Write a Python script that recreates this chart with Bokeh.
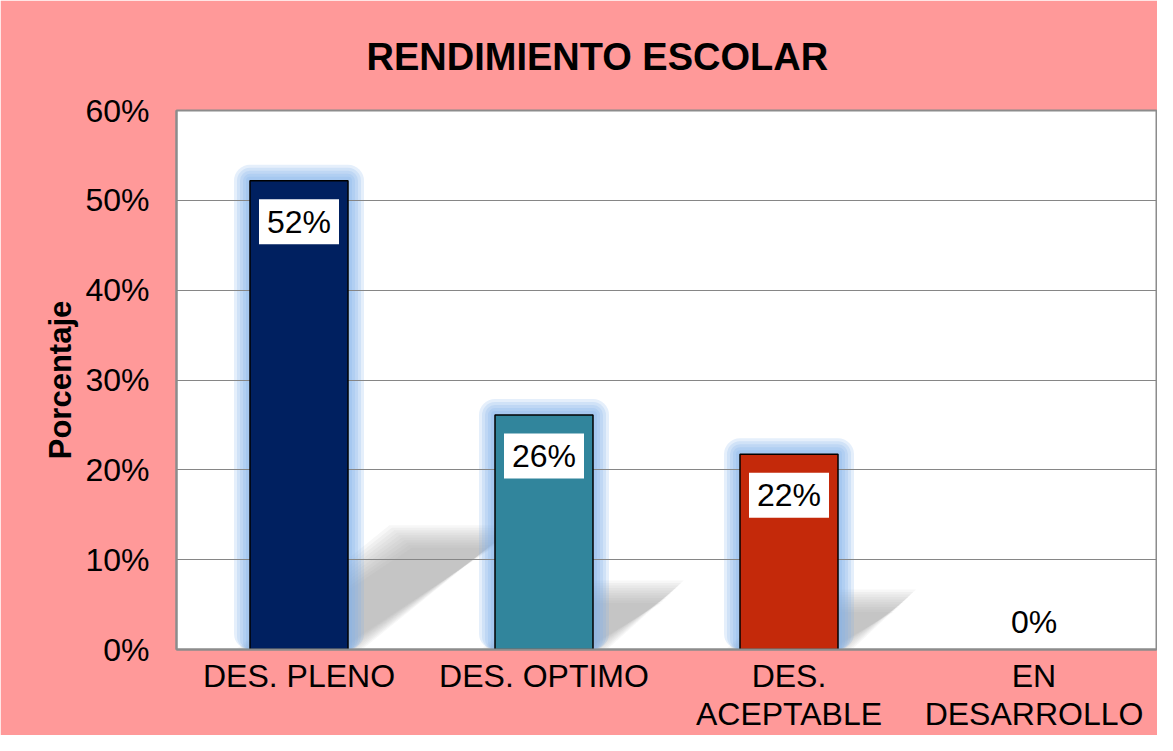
import numpy as np
from bokeh.plotting import figure
from bokeh.models import Range1d, FixedTicker, NumeralTickFormatter
from bokeh.core.properties import value
from bokeh.embed import file_html
from bokeh.resources import INLINE

# ---- data ----
categories = ["DES. PLENO", "DES. OPTIMO", "DES.\nACEPTABLE", "EN\nDESARROLLO"]
values = [0.5217, 0.2609, 0.2174, 0.0]
bar_colors = ["#002060", "#31859C", "#C4290A", "#7F7F7F"]
y_ticks = [0.0, 0.1, 0.2, 0.3, 0.4, 0.5, 0.6]
title_text = "RENDIMIENTO ESCOLAR"
y_label = "Porcentaje"

FONT = "Liberation Sans"
W, H = 1157, 735
BL, BR, BT, BB = 176, 1, 110, 86
FW, FH = W - BL - BR, H - BT - BB
n = len(categories)
px_x = FW / n            # pixels per category unit
px_y = FH / y_ticks[-1]  # pixels per data unit

p = figure(width=W, height=H, x_range=Range1d(0, n), y_range=Range1d(0, y_ticks[-1]),
           output_backend="svg", toolbar_location=None,
           min_border_left=BL, min_border_right=BR, min_border_top=BT, min_border_bottom=BB)
p.border_fill_color = "#FF9999"
p.background_fill_color = "white"
p.outline_line_color = "#8C8C8C"
p.outline_line_width = 2

xs = np.arange(n) + 0.5
vals = np.array(values)
bw = 0.4
pos = vals > 0

# ---- soft shadows (derived from bar geometry) ----
h_sh = 0.235 * vals
dx_sh = 1.2 * vals
for m in np.arange(14, -9, -2.5):
    mx, my = m / px_x, m / px_y
    pxs, pys = [], []
    for xc, v, hh, dd in zip(xs, vals, h_sh, dx_sh):
        if v <= 0:
            continue
        pxs.append([xc - bw / 2 - mx, xc + bw / 2 + mx, xc + bw / 2 + dd + mx, xc - bw / 2 + dd - mx])
        pys.append([0, 0, hh + my, hh + my])
    p.patches(pxs, pys, fill_color="#A8A8A8", fill_alpha=0.085, line_color=None, level="image")

# ---- blue glow ----
for pad in [16, 13, 10, 7, 4]:
    p.vbar(x=xs[pos], top=vals[pos] + pad / px_y, width=bw + 2 * pad / px_x,
           fill_color="#7FB0EC", fill_alpha=0.2, line_color=None,
           border_radius=pad, level="image")

# ---- bars ----
p.vbar(x=xs[pos], top=vals[pos], width=bw, fill_color=[c for c, q in zip(bar_colors, pos) if q],
       line_color="black", line_width=1.5)

# ---- data labels ----
labels = [f"{v * 100:.0f}%" for v in values]
lab_y = [v - 41 / px_y if v > 0 else v + 28 / px_y for v in values]
p.rect(x=xs[pos], y=np.array(lab_y)[pos], width=80, height=45,
       width_units="screen", height_units="screen", fill_color="white", line_color=None)
p.text(x=xs, y=lab_y, text=labels, text_align="center", text_baseline="middle",
       text_font=value(FONT), text_font_size="32px", text_color="black")

# ---- axes ----
p.xaxis.ticker = FixedTicker(ticks=list(xs))
p.xaxis.major_label_overrides = {float(x): c for x, c in zip(xs, categories)}
p.yaxis.ticker = FixedTicker(ticks=y_ticks)
p.yaxis.formatter = NumeralTickFormatter(format="0%")
for ax in [p.xaxis[0], p.yaxis[0]]:
    ax.major_tick_line_color = None
    ax.minor_tick_line_color = None
    ax.axis_line_color = "#8C8C8C"
    ax.axis_line_width = 2
    ax.major_label_text_font = FONT
    ax.major_label_text_font_size = "32px"
    ax.major_label_text_color = "black"
p.xaxis.major_label_standoff = 2
p.xaxis.major_label_text_line_height = 1.07
p.yaxis.major_label_standoff = 21
p.yaxis.axis_label = y_label
p.yaxis.axis_label_text_font = FONT
p.yaxis.axis_label_text_font_style = "bold"
p.yaxis.axis_label_text_font_size = "31px"
p.yaxis.axis_label_text_color = "black"
p.yaxis.axis_label_standoff = 4

p.xgrid.grid_line_color = None
p.ygrid.grid_line_color = "#868686"
p.ygrid.grid_line_width = 1

# ---- title ----
p.title.text = title_text
p.title.align = "left"
p.title.text_font = FONT
p.title.text_font_style = "bold"
p.title.text_font_size = "38px"
p.title.text_color = "black"
p.title.standoff = 65
p.title.offset = 190

open("out.html", "w").write(file_html(p, INLINE))
